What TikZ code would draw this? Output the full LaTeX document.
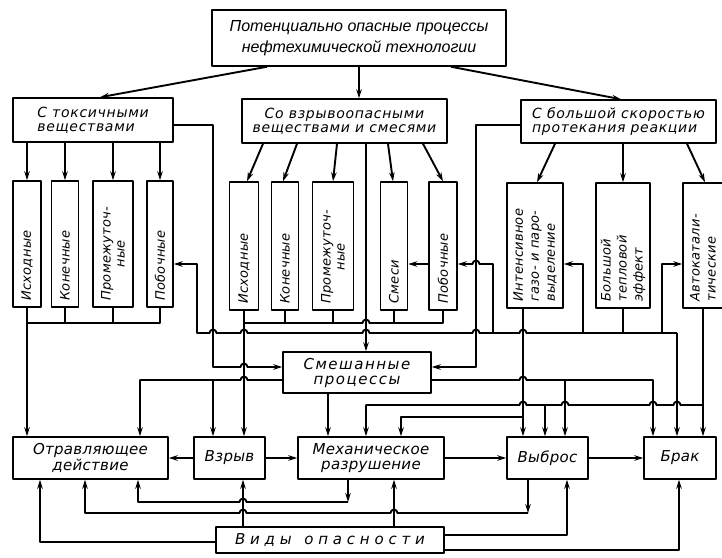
\documentclass[tikz,border=0pt]{standalone}
\usepackage{fontspec}
\usepackage{graphicx}
\setmainfont{DejaVu Sans}
\newfontfamily\tfnt{Liberation Sans Italic}
\newfontfamily\lblA[LetterSpace=5]{DejaVu Sans Oblique}
\newfontfamily\lblV[LetterSpace=2]{DejaVu Sans Oblique}
\newfontfamily\lblD[LetterSpace=2]{DejaVu Sans Oblique}
\newfontfamily\lblM[LetterSpace=10]{DejaVu Sans Oblique}
\newfontfamily\lblW[LetterSpace=32]{DejaVu Sans Oblique}
\usetikzlibrary{arrows.meta}
\newcommand\HopR[2]{-- ({#1-3.5},#2) arc[start angle=180,end angle=360,radius=3.5]}
\newcommand\HopL[2]{-- ({#1+3.5},#2) arc[start angle=0,end angle=-180,radius=3.5]}
\begin{document}
\begin{tikzpicture}[x=1pt,y=-1pt,line join=round,
  ln/.style={line width=1.9pt},
  arr/.style={line width=1.9pt,-{Stealth[length=9pt,width=5.5pt]}},
  box/.style={draw,line width=1.5pt,inner sep=0pt,fill=white},
  vt/.style={rotate=90,anchor=west,inner sep=0pt,font=\lblV\fontsize{13}{14}\selectfont},
  vtc/.style={rotate=90,anchor=west,inner sep=0pt,align=left,font=\lblV\fontsize{13}{16}\selectfont},
  lv2/.style={box,font=\lblA\fontsize{14}{14}\selectfont},
  lv4/.style={box,align=center,font=\lblD\fontsize{15}{14.5}\selectfont}]
\useasboundingbox[fill=white] (0,0) rectangle (722,557);

% ---------- boxes ----------
\node[box,minimum width=294pt,minimum height=56pt,align=center,font=\tfnt\fontsize{16}{21}\selectfont] (T) at (359,38) {Потенциально опасные процессы\\нефтехимической технологии};

\node[lv2,minimum width=160pt,minimum height=44pt,align=left] (A) at (93,120) {С токсичными\\веществами};
\node[lv2,minimum width=205pt,minimum height=44pt,align=center] (B) at (344.5,121) {Со взрывоопасными\\веществами и смесями};
\node[lv2,minimum width=195pt,minimum height=43pt,align=left] (C) at (618.5,121.5) {С большой скоростью\\протекания реакции};

\node[box,minimum width=28pt,minimum height=126pt] (A1) at (27,244) {};
\node[box,minimum width=27pt,minimum height=126pt] (A2) at (65,244) {};
\node[box,minimum width=40pt,minimum height=126pt] (A3) at (113,244) {};
\node[box,minimum width=26pt,minimum height=126pt] (A4) at (160,244) {};
\node[box,minimum width=29pt,minimum height=128pt] (B1) at (244,246) {};
\node[box,minimum width=27pt,minimum height=128pt] (B2) at (285,246) {};
\node[box,minimum width=41pt,minimum height=128pt] (B3) at (333,246) {};
\node[box,minimum width=27pt,minimum height=128pt] (B4) at (394,246) {};
\node[box,minimum width=28pt,minimum height=128pt] (B5) at (443,246) {};
\node[box,minimum width=56pt,minimum height=125pt] (C1) at (535,245.5) {};
\node[box,minimum width=54pt,minimum height=125pt] (C2) at (623,245.5) {};
\node[box,minimum width=40pt,minimum height=125pt] (C3) at (703,245.5) {};

\node[vt] (A1t) at ([yshift=7pt]A1.south) {Исходные};
\node[vt] (A2t) at ([yshift=7pt]A2.south) {Конечные};
\node[vt,align=center] (A3t) at ([yshift=7pt]A3.south) {Промежуточ-\\ные};
\node[vt] (A4t) at ([yshift=7pt]A4.south) {Побочные};
\node[vt] (B1t) at ([yshift=7pt]B1.south) {Исходные};
\node[vt] (B2t) at ([yshift=7pt]B2.south) {Конечные};
\node[vt,align=center] (B3t) at ([yshift=7pt]B3.south) {Промежуточ-\\ные};
\node[vt] (B4t) at ([yshift=7pt]B4.south) {Смеси};
\node[vt] (B5t) at ([yshift=7pt]B5.south) {Побочные};
\node[vtc] (C1t) at ([yshift=7pt]C1.south) {Интенсивное\\газо- и паро-\\выделение};
\node[vtc] (C2t) at ([yshift=7pt]C2.south) {Большой\\тепловой\\эффект};
\node[vtc] (C3t) at ([yshift=7pt]C3.south) {Автокатали-\\тические};

\node[box,minimum width=148pt,minimum height=41pt,align=center,font=\lblM\fontsize{15}{15}\selectfont] (M) at (357,372.5) {Смешанные\\процессы};

\node[lv4,minimum width=155pt,minimum height=42pt] (O) at (90.5,458) {Отравляющее\\действие};
\node[lv4,minimum width=71pt,minimum height=42pt] (Vz) at (229.5,458) {Взрыв};
\node[lv4,minimum width=146pt,minimum height=42pt] (Me) at (371,458) {Механическое\\разрушение};
\node[lv4,minimum width=81pt,minimum height=42pt] (Vy) at (547.5,458) {Выброс};
\node[lv4,minimum width=72pt,minimum height=42pt] (Br) at (680,458) {Брак};

\node[box,minimum width=228pt,minimum height=26pt,font=\lblW\fontsize{15}{15}\selectfont] (V) at (330,540) {Виды\hspace{3pt} опасности};

% ---------- top level arrows ----------
\draw[arr] (T.south -| 267,0) -- (A.north -| 100,0);
\draw[arr] (T.south -| 359,0) -- (B.north -| 359,0);
\draw[arr] (T.south -| 451,0) -- (C.north -| 621,0);

\foreach \n in {A1,A2,A3,A4} \draw[arr] (A.south -| \n.north) -- (\n.north);
\draw[arr] (B.south -| 263,0) -- (B1.north -| 247,0);
\draw[arr] (B.south -| 297,0) -- (B2.north -| 283,0);
\draw[arr] (B.south -| 337,0) -- (B3.north -| 333,0);
\draw[arr] (B.south -| 388,0) -- (B4.north -| 393,0);
\draw[arr] (B.south -| 423,0) -- (B5.north -| 443,0);
\draw[arr] (C.south -| 555,0) -- (C1.north -| 537,0);
\draw[arr] (C.south -| 623,0) -- (C2.north);
\draw[arr] (C.south -| 687,0) -- (C3.north -| 705,0);

% ---------- buses of groups A and B ----------
\draw[ln] (A4.south) -- (A4.south |- 0,323) -- (A1.south |- 0,323);
\draw[ln] (A2.south) -- (A2.south |- 0,323);
\draw[ln] (A3.south) -- (A3.south |- 0,323);
\draw[arr] (A1.south) -- (O.north -| A1.south);

\draw[ln] (B5.south) -- (B5.south |- 0,323) \HopL{366}{323} -- (B1.south |- 0,323);
\draw[ln] (B2.south) -- (B2.south |- 0,323);
\draw[ln] (B3.south) -- (B3.south |- 0,323);
\draw[ln] (B4.south) -- (B4.south |- 0,323);
\draw[arr] (B1.south) -- (Vz.north -| B1.south);

% ---------- into mixed processes ----------
\draw[arr] (A.east |- 0,125) -- (213,125) -- (213,367) \HopR{244}{367} -- (M.west |- 0,367);
\draw[arr] (B.south -| 366,0) -- (M.north -| 366,0);
\draw[arr] (C.west |- 0,125) -- (476,125) -- (476,367) -- (M.east |- 0,367);

% ---------- bus from large thermal effect ----------
\draw[ln] (C2.south) -- (C2.south |- 0,333);
\draw[arr] (677,333) \HopL{523}{333} \HopL{476}{333} \HopL{366}{333} \HopL{244}{333} \HopL{213}{333} -- (197,333) -- (197,264) -- (A4.east |- 0,264);
\draw[arr] (493,333) -- (493,264) \HopL{476}{264} -- (B5.east |- 0,264);
\draw[arr] (583,333) -- (583,264) -- (C1.east |- 0,264);
\draw[arr] (662,333) -- (662,264) -- (C3.west |- 0,264);
\draw[arr] (677,333) -- (Br.north -| 677,0);
\draw[arr] (B5.west |- 0,264) -- (B4.east |- 0,264);

% ---------- outputs of mixed processes ----------
\draw[arr] (M.west |- 0,380) \HopL{244}{380} -- (140,380) -- (O.north -| 140,0);
\draw[arr] (213,380) -- (Vz.north -| 213,0);
\draw[arr] (M.south -| 328,0) -- (Me.north -| 328,0);
\draw[arr] (M.east |- 0,380) \HopR{523}{380} -- (653,380) -- (Br.north -| 653,0);
\draw[arr] (565,380) -- (Vy.north -| 565,0);

% ---------- group C outputs ----------
\draw[arr] (C1.south -| 523,0) -- (Vy.north -| 523,0);
\draw[arr] (523,417) -- (401,417) -- (Me.north -| 401,0);
\draw[arr] (C3.south) -- (Br.north -| C3.south);
\draw[arr] (C3.south |- 0,405) \HopL{677}{405} \HopL{653}{405} \HopL{565}{405} -- (545,405) \HopL{523}{405} -- (366,405) -- (Me.north -| 366,0);
\draw[arr] (545,405) -- (Vy.north -| 545,0);

% ---------- level 4 chain ----------
\draw[arr] (Vz.west) -- (O.east |- Vz.west);
\draw[arr] (Vz.east) -- (Me.west |- Vz.east);
\draw[arr] (Me.east) -- (Vy.west |- Me.east);
\draw[arr] (Vy.east) -- (Br.west |- Vy.east);

% ---------- bottom returns ----------
\draw[arr] (Me.south -| 348,0) -- (348,502);
\draw[arr] (348,502) \HopL{243}{502} -- (138,502) -- (O.south -| 138,0);
\draw[arr] (Vy.south -| 528,0) -- (528,513);
\draw[arr] (528,513) \HopL{394}{513} \HopL{243}{513} -- (85,513) -- (O.south -| 85,0);

% ---------- kinds of hazard ----------
\draw[arr] (V.west |- 0,542) -- (40,542) -- (O.south -| 40,0);
\draw[arr] (V.north -| 243,0) -- (Vz.south -| 243,0);
\draw[arr] (V.north -| 394,0) -- (Me.south -| 394,0);
\draw[arr] (V.east |- 0,535) -- (567,535) -- (Vy.south -| 567,0);
\draw[arr] (V.east |- 0,550) -- (679,550) -- (Br.south -| 679,0);
\end{tikzpicture}
\end{document}
